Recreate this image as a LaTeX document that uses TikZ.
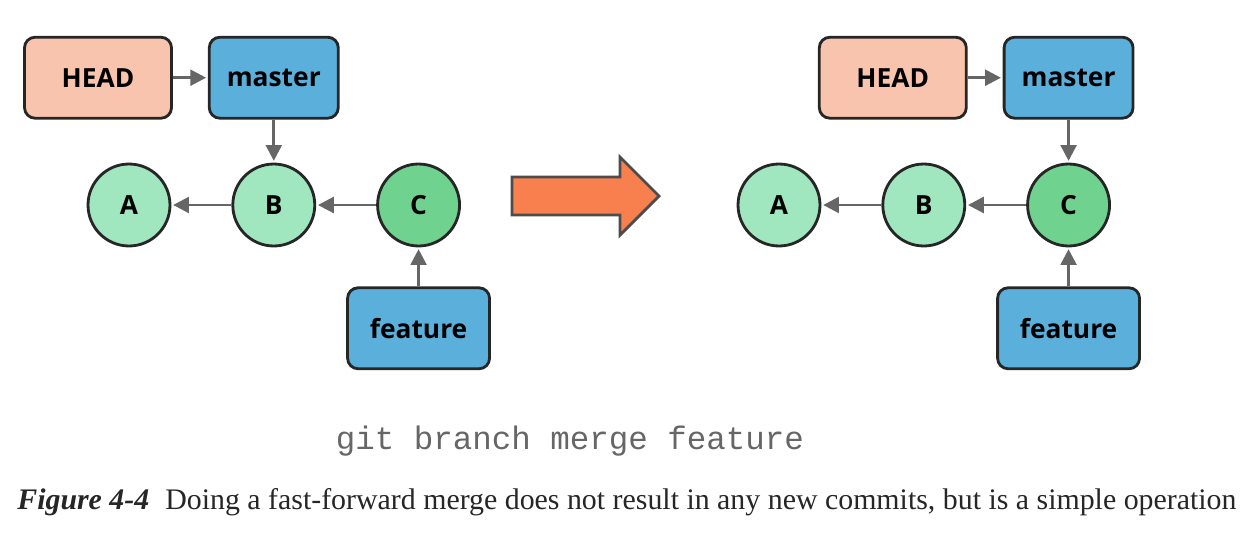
\documentclass[tikz,border=0pt]{standalone}
\usepackage{fontspec}
\newfontfamily\boxfont{Open Sans}
\newfontfamily\capfont{Liberation Serif}
\newfontfamily\codefont{Liberation Mono}
\usetikzlibrary{arrows.meta,positioning}
\definecolor{headfill}{HTML}{F9C4AE}
\definecolor{reffill}{HTML}{5BAFDB}
\definecolor{oldfill}{HTML}{A0E6BF}
\definecolor{newfill}{HTML}{6FD28F}
\definecolor{edgegray}{HTML}{666666}
\definecolor{movefill}{HTML}{F8804F}

\begin{document}
\begin{tikzpicture}[
  x=0.02cm, y=-0.02cm,
  font=\boxfont\bfseries\fontsize{15}{18}\selectfont,
  >={Triangle[length=9pt,width=9pt]},
  head/.style={draw=black!85, line width=1.6pt, rounded corners=6pt, fill=headfill, minimum width=2.94cm, minimum height=1.62cm},
  ref/.style={draw=black!85, line width=1.6pt, rounded corners=6pt, fill=reffill, minimum width=2.58cm, minimum height=1.62cm},
  commit/.style={draw=black!85, line width=1.6pt, circle, fill=oldfill, minimum size=1.64cm, inner sep=0pt},
  tip/.style={commit, fill=newfill},
  link/.style={->, draw=edgegray, line width=1.6pt, shorten >=1pt}
]
\useasboundingbox (0,0) rectangle (1253,534);

% before the merge
\node[commit] (A1) at (129,205) {A};
\node[commit, right=1.2cm of A1] (B1) {B};
\node[tip, right=1.2cm of B1] (C1) {C};
\node[ref, above=0.86cm of B1] (master1) {master};
\node[head, left=0.7cm of master1] (head1) {HEAD};
\node[ref, below=0.78cm of C1, minimum width=2.84cm] (feature1) {feature};

\draw[link] (head1) -- (master1);
\draw[link] (master1) -- (B1);
\draw[link] (B1) -- (A1);
\draw[link] (C1) -- (B1);
\draw[link] (feature1) -- (C1);

% fast-forward arrow
\draw[draw=black!70, line width=1.6pt, fill=movefill, line join=miter]
  (512,177) -- (620,177) -- (620,157) -- (659,196) -- (620,235) -- (620,215) -- (512,215) -- cycle;

% after the merge
\node[commit] (A2) at (779,205) {A};
\node[commit, right=1.2cm of A2] (B2) {B};
\node[tip, right=1.2cm of B2] (C2) {C};
\node[ref, above=0.86cm of C2] (master2) {master};
\node[head, left=0.7cm of master2] (head2) {HEAD};
\node[ref, below=0.78cm of C2, minimum width=2.84cm] (feature2) {feature};

\draw[link] (head2) -- (master2);
\draw[link] (master2) -- (C2);
\draw[link] (B2) -- (A2);
\draw[link] (C2) -- (B2);
\draw[link] (feature2) -- (C2);

% command and caption
\node[font=\codefont\fontsize{18.5}{22}\selectfont, text=black!60] (cmd) at (570,441) {git branch merge feature};
\node[anchor=base west, inner sep=0pt, font=\capfont\bfseries\itshape\fontsize{17}{20}\selectfont, text=black!85] (figno) at (17,509) {Figure 4-4};
\node[anchor=base west, inner sep=0pt, font=\capfont\fontsize{17}{20}\selectfont, text=black!85] (caption) at (165,509)
  {Doing a fast-forward merge does not result in any new commits, but is a simple operation};

\end{tikzpicture}
\end{document}
